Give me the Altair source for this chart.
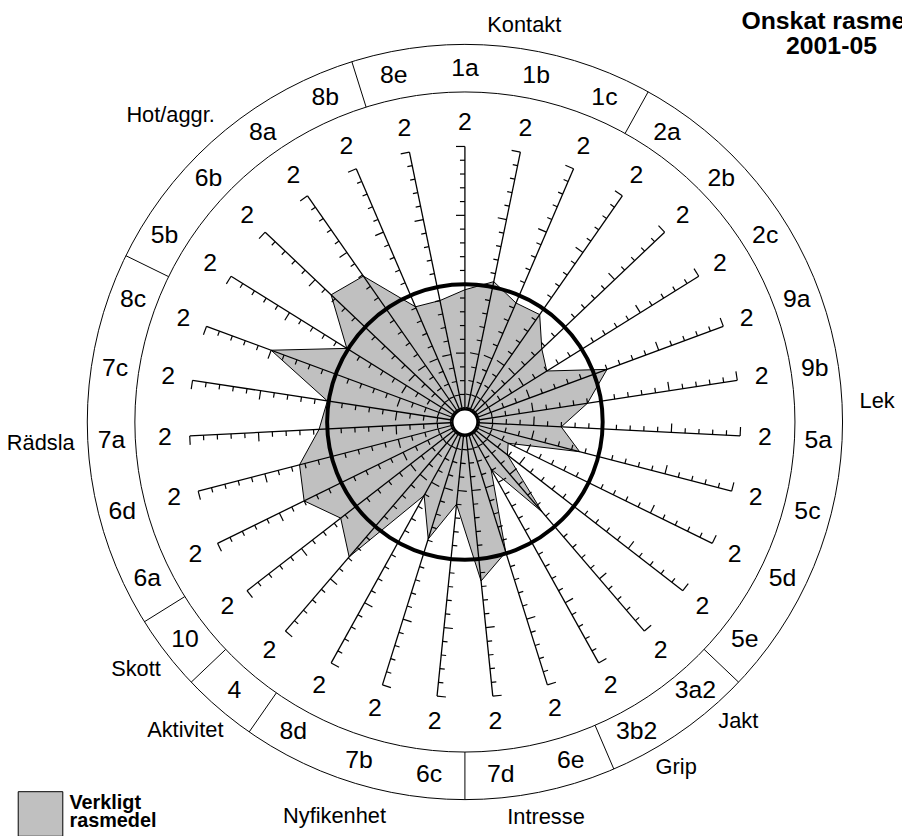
import numpy as np
import pandas as pd
import altair as alt

# ---------------- data ----------------
items = ["1a", "1b", "1c", "2a", "2b", "2c", "9a", "9b", "5a", "5c", "5d", "5e",
         "3a2", "3b2", "6e", "7d", "6c", "7b", "8d", "4", "10", "6a", "6d", "7a",
         "7c", "8c", "5b", "6b", "8a", "8b", "8e"]
actual = [0.96, 1.04, 0.94, 0.95, 0.77, 0.70, 1.10, 0.90, 0.70, 0.86, 0.35, 0.39,
          0.86, 0.39, 0.99, 1.16, 0.60, 0.89, 0.61, 1.29, 1.14, 1.30, 1.24, 1.06,
          1.01, 1.50, 1.01, 1.34, 1.29, 0.91, 0.90]
sections = (["Kontakt"] * 3 + ["Lek"] * 9 + ["Jakt/Grip"] * 2 + ["Intresse"] * 2 +
            ["Nyfikenhet"] * 3 + ["Aktivitet"] + ["Skott"] + ["Rädsla"] * 5 +
            ["Hot/aggr."] * 4 + ["Kontakt"])
desired_level = 1.0
scale_max = 2.0
scale_step = 0.1
max_label = "2"
group_names = ["Kontakt", "Lek", "Jakt", "Grip", "Intresse", "Nyfikenhet",
               "Aktivitet", "Skott", "Rädsla", "Hot/aggr."]
title_lines = ["Onskat rasmedel", "2001-05"]
legend_lines = ["Verkligt", "rasmedel"]

# ---------------- layout ----------------
CX, CY = 469.0, 422.0
U = 139.0
R_IN, R_OUT = 333.0, 381.0
R_ITEM, R_MAX = 357.0, 303.0
HOLE = 12.5
GROUP_ANCHOR = {"Kontakt": (8.5, 405), "Lek": (87.1, 416.5), "Jakt": (137.6, 409),
                "Grip": (148.5, 408), "Intresse": (168.4, 407),
                "Nyfikenhet": (198.3, 419), "Aktivitet": (222.2, 420),
                "Skott": (233.1, 415), "Rädsla": (267.2, 428.5),
                "Hot/aggr.": (316.2, 429)}
FONT = "Liberation Sans"
GREY = "#c0c0c0"

n = len(items)
step = 360.0 / n
ang = np.deg2rad(np.arange(n) * step)


def px(r, a):
    return CX + r * np.sin(a)


def py(r, a):
    return CY - r * np.cos(a)


xs = alt.Scale(domain=[8, 910], nice=False, zero=False)
ys = alt.Scale(domain=[836, 8], nice=False, zero=False)


def XY(x="x", y="y"):
    return dict(x=alt.X(x, type="quantitative", scale=xs, axis=None),
                y=alt.Y(y, type="quantitative", scale=ys, axis=None))


# polygon
vals = np.array(actual) * U
poly_df = pd.DataFrame({"i": np.arange(n), "item": items,
                        "x": px(vals, ang), "y": py(vals, ang)})

# spokes, ticks, separators
rows = []
nt = int(round(scale_max / scale_step))
for i, a in enumerate(ang):
    rows.append(dict(x=px(0, a), y=py(0, a), x2=px(scale_max * U, a),
                     y2=py(scale_max * U, a), w=1.3))
    for k in range(1, nt + 1):
        r = k * scale_step * U
        L = 9 if k % 5 == 0 else 5
        bx, by = px(r, a), py(r, a)
        rows.append(dict(x=bx, y=by, x2=bx - L * np.cos(a), y2=by - L * np.sin(a), w=1.2))
for i in range(n):
    if sections[i] != sections[(i + 1) % n]:
        a = np.deg2rad((i + 0.5) * step)
        rows.append(dict(x=px(R_IN, a), y=py(R_IN, a), x2=px(R_OUT, a),
                         y2=py(R_OUT, a), w=1.0))
seg_df = pd.DataFrame(rows)

circ_df = pd.DataFrame({"r": [R_OUT, R_IN, desired_level * U], "w": [1.0, 1.0, 4.0]})
circ_df["x"] = CX
circ_df["y"] = CY
circ_df["s"] = (2 * circ_df["r"]) ** 2

hole_df = pd.DataFrame({"x": [CX], "y": [CY], "s": [(2 * HOLE) ** 2]})

maxlbl_df = pd.DataFrame({"x": px(R_MAX, ang), "y": py(R_MAX, ang), "t": [max_label] * n})
item_df = pd.DataFrame({"x": px(R_ITEM, ang), "y": py(R_ITEM, ang), "t": items})
g_ang = np.deg2rad([GROUP_ANCHOR[g][0] for g in group_names])
g_r = np.array([GROUP_ANCHOR[g][1] for g in group_names])
group_df = pd.DataFrame({"x": px(g_r, g_ang), "y": py(g_r, g_ang), "t": group_names})

title_df = pd.DataFrame({"x": [748, 793], "y": [25, 51], "t": title_lines})
leg_sq_df = pd.DataFrame({"x": [40.8], "y": [817.5]})
leg_txt_df = pd.DataFrame({"x": [70, 70], "y": [812, 831], "t": legend_lines})

poly = alt.Chart(poly_df).mark_line(
    interpolate="linear-closed", fill=GREY, stroke="black", strokeWidth=1
).encode(order="i:Q", **XY())

rules = alt.Chart(seg_df).mark_rule(color="black").encode(
    x2="x2:Q", y2="y2:Q", strokeWidth=alt.StrokeWidth("w:Q", scale=None), **XY())

circles = alt.Chart(circ_df).mark_point(shape="circle", filled=False, color="black",
                                        opacity=1).encode(
    size=alt.Size("s:Q", scale=None),
    strokeWidth=alt.StrokeWidth("w:Q", scale=None), **XY())

hole = alt.Chart(hole_df).mark_point(shape="circle", fill="white", stroke="black",
                                     strokeWidth=2, opacity=1, fillOpacity=1).encode(
    size=alt.Size("s:Q", scale=None), **XY())

maxlbl = alt.Chart(maxlbl_df).mark_text(font=FONT, fontSize=25, align="center",
                                        baseline="middle", color="black").encode(
    text="t:N", **XY())
itemlbl = alt.Chart(item_df).mark_text(font=FONT, fontSize=25, align="center",
                                       baseline="middle", color="black").encode(
    text="t:N", **XY())
grouplbl = alt.Chart(group_df).mark_text(font=FONT, fontSize=22, align="center",
                                         baseline="middle", color="black").encode(
    text="t:N", **XY())
title = alt.Chart(title_df).mark_text(font=FONT, fontSize=25, fontWeight="bold",
                                      align="left", baseline="alphabetic",
                                      color="black").encode(text="t:N", **XY())
leg_sq = alt.Chart(leg_sq_df).mark_point(shape="square", size=45 * 45, fill=GREY,
                                         stroke="black", strokeWidth=1, opacity=1,
                                         fillOpacity=1).encode(**XY())
leg_txt = alt.Chart(leg_txt_df).mark_text(font=FONT, fontSize=20, fontWeight="bold",
                                          align="left", baseline="alphabetic",
                                          color="black").encode(text="t:N", **XY())

chart = alt.layer(poly, rules, circles, hole, maxlbl, itemlbl, grouplbl, title,
                  leg_sq, leg_txt).properties(
    width=902, height=828, padding=0,
    autosize=alt.AutoSizeParams(type="none")
).configure_view(stroke=None)

chart.save("out.html", embed_options={"renderer": "svg", "actions": False})
